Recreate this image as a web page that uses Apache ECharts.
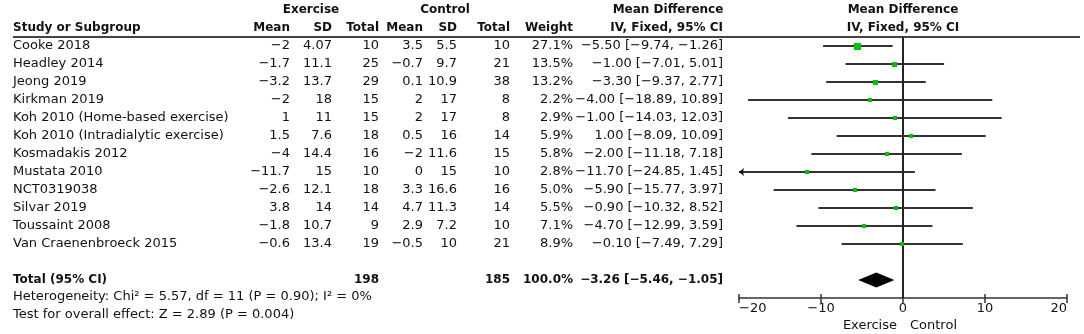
<!DOCTYPE html>
<html>
<head>
<meta charset="utf-8">
<script src="https://cdn.jsdelivr.net/npm/echarts@6/dist/echarts.min.js"></script>
<style>
  html, body { margin: 0; padding: 0; background: #fff; }
  #forest { width: 1084px; height: 334px; }
</style>
</head>
<body>
<div id="forest"></div>
<script>
// Données de l'étude
const studies = ['Cooke 2018', 'Headley 2014', 'Jeong 2019', 'Kirkman 2019',
  'Koh 2010 (Home-based exercise)', 'Koh 2010 (Intradialytic exercise)', 'Kosmadakis 2012',
  'Mustata 2010', 'NCT0319038', 'Silvar 2019', 'Toussaint 2008', 'Van Craenenbroeck 2015'];
const exMean = [-2, -1.7, -3.2, -2, 1, 1.5, -4, -11.7, -2.6, 3.8, -1.8, -0.6];
const exSD = [4.07, 11.1, 13.7, 18, 11, 7.6, 14.4, 15, 12.1, 14, 10.7, 13.4];
const exTotal = [10, 25, 29, 15, 15, 18, 16, 10, 18, 14, 9, 19];
const ctMean = [3.5, -0.7, 0.1, 2, 2, 0.5, -2, 0, 3.3, 4.7, 2.9, -0.5];
const ctSD = [5.5, 9.7, 10.9, 17, 17, 16, 11.6, 15, 16.6, 11.3, 7.2, 10];
const ctTotal = [10, 21, 38, 8, 8, 14, 15, 10, 16, 14, 10, 21];
const weights = [27.1, 13.5, 13.2, 2.2, 2.9, 5.9, 5.8, 2.8, 5.0, 5.5, 7.1, 8.9];
const meanDiff = [-5.50, -1.00, -3.30, -4.00, -1.00, 1.00, -2.00, -11.70, -5.90, -0.90, -4.70, -0.10];
const ciLow = [-9.74, -7.01, -9.37, -18.89, -14.03, -8.09, -11.18, -24.85, -15.77, -10.32, -12.99, -7.49];
const ciHigh = [-1.26, 5.01, 2.77, 10.89, 12.03, 10.09, 7.18, 1.45, 3.97, 8.52, 3.59, 7.29];
const totalN = [198, 185];
const totalEffect = [-3.26, -5.46, -1.05]; // estimation, borne basse, borne haute
const xTicks = [-20, -10, 0, 10, 20];
const heterogeneity = 'Heterogeneity: Chi\u00b2 = 5.57, df = 11 (P = 0.90); I\u00b2 = 0%';
const overallTest = 'Test for overall effect: Z = 2.89 (P = 0.004)';

const FONT = '13px "DejaVu Sans"';
const BOLD = 'bold 12px "DejaVu Sans"';
const INK = '#111';
const LINE = '#333';
const totalRow = studies.length + 1;

const minus = v => String(v).replace('-', '\u2212');
const fix2 = v => minus(v.toFixed(2));

function txt(text, x, y, align, font) {
  return {
    type: 'text',
    style: {
      text: text, x: x, y: y, font: font || FONT, fill: INK,
      align: align, textAlign: align, verticalAlign: 'middle', textVerticalAlign: 'middle'
    }
  };
}

// Colonnes du tableau (bord droit du texte)
const col = { name: 13, exM: 290, exS: 332, exN: 379, ctM: 423, ctS: 457, ctN: 510, w: 573, md: 723 };

const Forest = {
  chart: null,

  init: function () {
    const dom = document.getElementById('forest');
    this.chart = echarts.init(dom, null, { renderer: 'canvas' });

    const rows = studies.map((s, i) => [0, i]);

    const option = {
      animation: false,
      grid: { left: 739, right: 17, top: 37, bottom: 36 },
      xAxis: [
        {
          type: 'value', min: xTicks[0], max: xTicks[xTicks.length - 1], interval: 10,
          position: 'bottom',
          axisLine: { show: true, onZero: false, lineStyle: { color: LINE, width: 1.5 } },
          axisTick: { show: true, inside: false, length: 5, lineStyle: { color: LINE, width: 1.5 } },
          axisLabel: {
            color: INK, fontSize: 13, fontFamily: 'DejaVu Sans', margin: 4,
            alignMinLabel: 'left', alignMaxLabel: 'right',
            formatter: v => minus(v)
          },
          splitLine: { show: false }
        },
        {
          type: 'value', min: xTicks[0], max: xTicks[xTicks.length - 1], interval: 10,
          position: 'bottom',
          axisLine: { show: false, onZero: false },
          axisTick: { show: true, inside: true, length: 4, lineStyle: { color: LINE, width: 1.5 } },
          axisLabel: { show: false },
          splitLine: { show: false }
        }
      ],
      yAxis: { type: 'value', min: -0.5, max: 14, inverse: true, show: false },
      series: [
        {
          // texte du tableau + en-têtes
          type: 'custom', clip: false, silent: true,
          data: [[0, 0]],
          renderItem: function (params, api) {
            const y = r => api.coord([0, r])[1];
            const zx = api.coord([0, 0])[0];
            const kids = [];
            // en-têtes
            kids.push(txt('Exercise', 311, y(-2), 'center', BOLD));
            kids.push(txt('Control', 445, y(-2), 'center', BOLD));
            kids.push(txt('Mean Difference', 668, y(-2), 'center', BOLD));
            kids.push(txt('Mean Difference', zx, y(-2), 'center', BOLD));
            kids.push(txt('Study or Subgroup', col.name, y(-1), 'left', BOLD));
            kids.push(txt('Mean', col.exM, y(-1), 'right', BOLD));
            kids.push(txt('SD', col.exS, y(-1), 'right', BOLD));
            kids.push(txt('Total', col.exN, y(-1), 'right', BOLD));
            kids.push(txt('Mean', col.ctM, y(-1), 'right', BOLD));
            kids.push(txt('SD', col.ctS, y(-1), 'right', BOLD));
            kids.push(txt('Total', col.ctN, y(-1), 'right', BOLD));
            kids.push(txt('Weight', col.w, y(-1), 'right', BOLD));
            kids.push(txt('IV, Fixed, 95% CI', col.md, y(-1), 'right', BOLD));
            kids.push(txt('IV, Fixed, 95% CI', zx, y(-1), 'center', BOLD));
            // ligne sous les en-têtes
            kids.push({
              type: 'line',
              shape: { x1: col.name, y1: y(-0.5), x2: 1080, y2: y(-0.5) },
              style: { stroke: '#444', lineWidth: 2 }
            });
            // lignes des études
            studies.forEach((s, i) => {
              const yy = y(i);
              kids.push(txt(s, col.name, yy, 'left'));
              kids.push(txt(minus(exMean[i]), col.exM, yy, 'right'));
              kids.push(txt(String(exSD[i]), col.exS, yy, 'right'));
              kids.push(txt(String(exTotal[i]), col.exN, yy, 'right'));
              kids.push(txt(minus(ctMean[i]), col.ctM, yy, 'right'));
              kids.push(txt(String(ctSD[i]), col.ctS, yy, 'right'));
              kids.push(txt(String(ctTotal[i]), col.ctN, yy, 'right'));
              kids.push(txt(weights[i].toFixed(1) + '%', col.w, yy, 'right'));
              kids.push(txt(fix2(meanDiff[i]) + ' [' + fix2(ciLow[i]) + ', ' + fix2(ciHigh[i]) + ']', col.md, yy, 'right'));
            });
            // total
            const yt = y(totalRow);
            kids.push(txt('Total (95% CI)', col.name, yt, 'left', BOLD));
            kids.push(txt(String(totalN[0]), col.exN, yt, 'right', BOLD));
            kids.push(txt(String(totalN[1]), col.ctN, yt, 'right', BOLD));
            kids.push(txt('100.0%', col.w, yt, 'right', BOLD));
            kids.push(txt(fix2(totalEffect[0]) + ' [' + fix2(totalEffect[1]) + ', ' + fix2(totalEffect[2]) + ']', col.md, yt, 'right', BOLD));
            kids.push(txt(heterogeneity, col.name, y(totalRow + 0.95), 'left'));
            kids.push(txt(overallTest, col.name, y(totalRow + 1.95), 'left'));
            // légende sous l'axe
            kids.push(txt('Exercise', zx - 6, y(totalRow + 2.55), 'right'));
            kids.push(txt('Control', zx + 7, y(totalRow + 2.55), 'left'));
            return { type: 'group', children: kids };
          }
        },
        {
          // intervalles de confiance
          type: 'custom', clip: false, silent: true,
          data: rows.map((r, i) => [ciLow[i], ciHigh[i], i]),
          renderItem: function (params, api) {
            const lo = api.value(0), hi = api.value(1), r = api.value(2);
            const left = Math.max(lo, xTicks[0]);
            const right = Math.min(hi, xTicks[xTicks.length - 1]);
            const p1 = api.coord([left, r]);
            const p2 = api.coord([right, r]);
            const kids = [{
              type: 'line',
              shape: { x1: p1[0], y1: p1[1], x2: p2[0], y2: p2[1] },
              style: { stroke: LINE, lineWidth: 2 }
            }];
            if (lo < xTicks[0]) {
              kids.push({
                type: 'polygon',
                shape: { points: [[p1[0], p1[1]], [p1[0] + 5, p1[1] - 4], [p1[0] + 4, p1[1]], [p1[0] + 5, p1[1] + 4]] },
                style: { fill: '#111' }
              });
            }
            return { type: 'group', children: kids };
          },
          markLine: {
            silent: true, symbol: 'none', label: { show: false },
            lineStyle: { color: '#222', width: 2, type: 'solid' },
            data: [{ xAxis: 0 }]
          }
        },
        {
          // carrés pondérés
          type: 'custom', clip: false, silent: true, z: 5,
          data: rows.map((r, i) => [meanDiff[i], i, weights[i]]),
          renderItem: function (params, api) {
            const p = api.coord([api.value(0), api.value(1)]);
            const side = Math.max(4, Math.round(7 * Math.sqrt(api.value(2) / weights[0])));
            return {
              type: 'rect',
              shape: { x: Math.round(p[0] - side / 2), y: Math.round(p[1] - side / 2), width: side, height: side },
              style: { fill: '#00c400' }
            };
          }
        },
        {
          // losange du total
          type: 'custom', clip: false, silent: true, z: 5,
          data: [[totalEffect[1], totalEffect[0], totalEffect[2], totalRow]],
          renderItem: function (params, api) {
            const r = api.value(3);
            const a = api.coord([api.value(0), r]);
            const m = api.coord([api.value(1), r]);
            const b = api.coord([api.value(2), r]);
            return {
              type: 'polygon',
              shape: { points: [[a[0], a[1]], [m[0], m[1] - 7.5], [b[0], b[1]], [m[0], m[1] + 7.5]] },
              style: { fill: '#000' }
            };
          }
        }
      ]
    };

    this.chart.setOption(option);
    window.addEventListener('resize', this.chart.resize);
  }
};

Forest.init();
</script>
</body>
</html>
